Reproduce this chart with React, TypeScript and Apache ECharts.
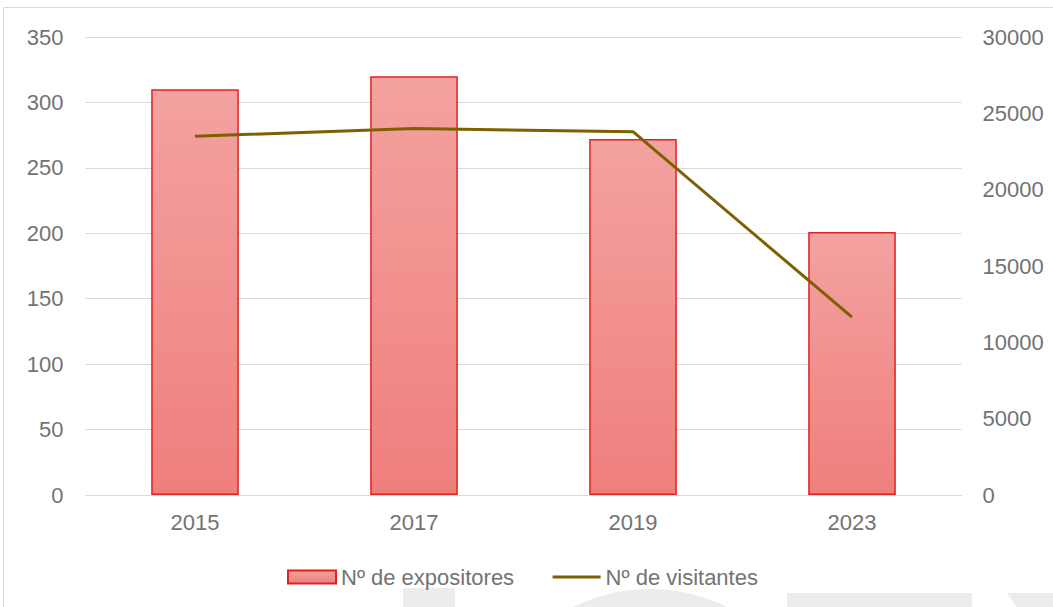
import React, { useEffect, useRef } from "react";
import * as echarts from "echarts";

const categories = ["2015", "2017", "2019", "2023"];
const expositores = [310, 320, 272, 201];
const visitantes = [23500, 24000, 23800, 11650];
const leftTicks = { min: 0, max: 350, interval: 50 };
const rightTicks = { min: 0, max: 30000, interval: 5000 };
const seriesNames = ["Nº de expositores", "Nº de visitantes"];

const FONT = "'Liberation Sans', Arial, sans-serif";
const TXT = "#737373";
const GRID = "#d9d9d9";
const WM = "#ececec";

export default function App() {
  const ref = useRef<HTMLDivElement>(null);
  useEffect(() => {
    if (!ref.current) return;
    const chart = echarts.init(ref.current, undefined, { renderer: "svg" });
    chart.setOption({
      animation: false,
      backgroundColor: "#ffffff",
      textStyle: { fontFamily: FONT },
      graphic: [
        { type: "rect", z: -10, silent: true, shape: { x: 403, y: 588, width: 52, height: 30 }, style: { fill: WM } },
        { type: "circle", z: -10, silent: true, shape: { cx: 650, cy: 763, r: 174 }, style: { fill: WM } },
        { type: "rect", z: -10, silent: true, shape: { x: 787, y: 593, width: 185, height: 30 }, style: { fill: WM } },
        { type: "polygon", z: -10, silent: true, shape: { points: [[1007, 593], [1060, 593], [1060, 610], [1019, 610]] }, style: { fill: WM } },
        { type: "rect", z: -5, silent: true, shape: { x: 3.5, y: 7.5, width: 1100, height: 700 }, style: { fill: "none", stroke: GRID, lineWidth: 1 } },
      ],
      grid: { left: 85.5, right: 91.5, top: 37, bottom: 112, containLabel: false },
      legend: {
        top: 566,
        left: 287,
        padding: 0,
        itemWidth: 48,
        itemHeight: 13,
        itemGap: 37,
        textStyle: { color: TXT, fontSize: 22, fontFamily: FONT },
        data: [
          { name: seriesNames[0], icon: "rect" },
          { name: seriesNames[1], itemStyle: { opacity: 0 }, lineStyle: { width: 3, color: "#7f6000" } },
        ],
      },
      xAxis: {
        type: "category",
        data: categories,
        axisTick: { show: false },
        axisLine: { lineStyle: { color: GRID, width: 1 } },
        axisLabel: { color: TXT, fontSize: 22, fontFamily: FONT, margin: 16 },
      },
      yAxis: [
        {
          type: "value",
          min: leftTicks.min,
          max: leftTicks.max,
          interval: leftTicks.interval,
          axisLine: { show: false },
          axisTick: { show: false },
          splitLine: { lineStyle: { color: GRID, width: 1 } },
          axisLabel: { color: TXT, fontSize: 22, fontFamily: FONT, margin: 22 },
        },
        {
          type: "value",
          min: rightTicks.min,
          max: rightTicks.max,
          interval: rightTicks.interval,
          axisLine: { show: false },
          axisTick: { show: false },
          splitLine: { show: false },
          axisLabel: {
            color: TXT,
            fontSize: 22,
            fontFamily: FONT,
            margin: 21,
            formatter: (v: number) => String(v),
          },
        },
      ],
      series: [
        {
          name: seriesNames[0],
          type: "bar",
          data: expositores,
          barWidth: "40%",
          itemStyle: {
            color: new echarts.graphic.LinearGradient(0, 0, 0, 1, [
              { offset: 0, color: "#f3a2a0" },
              { offset: 1, color: "#ef7f7d" },
            ]),
            borderColor: "#e0221f",
            borderWidth: 1.5,
          },
        },
        {
          name: seriesNames[1],
          type: "line",
          yAxisIndex: 1,
          data: visitantes,
          symbol: "none",
          lineStyle: { color: "#7f6000", width: 3 },
          itemStyle: { color: "#7f6000" },
        },
      ],
    });
    return () => chart.dispose();
  }, []);
  return (
    <div
      ref={ref}
      style={{ position: "absolute", left: 0, top: 0, width: 1053, height: 607 }}
    />
  );
}
